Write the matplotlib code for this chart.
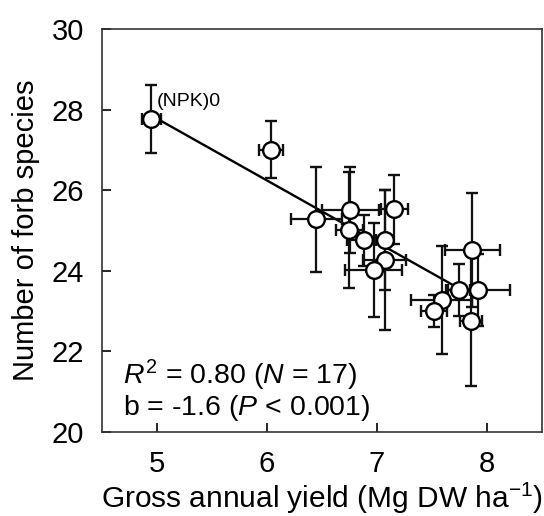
import matplotlib

matplotlib.use("Agg")
import matplotlib.pyplot as plt

# yield (Mg DW/ha) and forb species number, with SE
yield_x = [4.95, 6.04, 6.45, 6.76, 6.75, 7.16, 6.88, 7.07, 7.07, 6.97, 7.87, 7.92, 7.75, 7.59, 7.52, 7.86]
yield_err = [0.09, 0.11, 0.23, 0.26, 0.12, 0.12, 0.15, 0.08, 0.20, 0.26, 0.25, 0.29, 0.10, 0.28, 0.12, 0.10]
forbs = [27.77, 27.0, 25.27, 25.51, 25.01, 25.52, 24.75, 24.76, 24.26, 24.02, 24.51, 23.52, 23.52, 23.27, 23.0, 22.76]
forbs_err = [0.85, 0.71, 1.31, 1.07, 1.45, 0.85, 0.64, 1.25, 1.73, 1.16, 1.42, 0.9, 0.64, 1.33, 0.4, 1.63]

# regression line drawn over the fitted range
fit_intercept = 35.45
fit_slope = -1.535
fit_range = [4.95, 7.78]

plt.rcParams.update(
    {
        "font.family": ["Liberation Sans", "DejaVu Sans"],
        "font.size": 20,
        "mathtext.fontset": "custom",
        "mathtext.rm": "Liberation Sans",
        "mathtext.it": "Liberation Sans:italic",
    }
)

fig = plt.figure(figsize=(5.44, 5.16), dpi=100)
ax = fig.add_axes([102 / 544, 1 - 431.7 / 516, 439.7 / 544, 402.7 / 516])

line_y = [fit_intercept + fit_slope * x for x in fit_range]
ax.plot(fit_range, line_y, color="black", linewidth=1.7, zorder=2)

ax.errorbar(
    yield_x,
    forbs,
    xerr=yield_err,
    yerr=forbs_err,
    fmt="o",
    color="#111111",
    ecolor="#111111",
    elinewidth=1.6,
    capsize=4.5,
    capthick=1.6,
    markersize=12,
    markerfacecolor="white",
    markeredgecolor="black",
    markeredgewidth=1.7,
    zorder=3,
)

ax.annotate("(NPK)0", (yield_x[0], forbs[0]), xytext=(4, 9), textcoords="offset points", fontsize=14)

ax.set_xlim(4.5, 8.5)
ax.set_ylim(20, 30)
ax.set_xticks([5, 6, 7, 8])
ax.set_yticks([20, 22, 24, 26, 28, 30])
ax.tick_params(direction="in", length=6.5, width=1.2, labelsize=21)
ax.tick_params(axis="x", pad=13)
ax.tick_params(axis="y", pad=13)
for spine in ax.spines.values():
    spine.set_linewidth(1.2)
    spine.set_color("#333333")

ax.set_xlabel("Gross annual yield (Mg DW ha$^{-1}$)", fontsize=21.5, labelpad=2)
ax.set_ylabel("Number of forb species", fontsize=21, labelpad=8)

ax.text(0.047, 0.14, "$R^2$ = 0.80 ($N$ = 17)", transform=ax.transAxes, fontsize=20.5, va="center")
ax.text(0.047, 0.06, "b = -1.6 ($P$ < 0.001)", transform=ax.transAxes, fontsize=20.5, va="center")

fig.savefig("out.png", dpi=100)
